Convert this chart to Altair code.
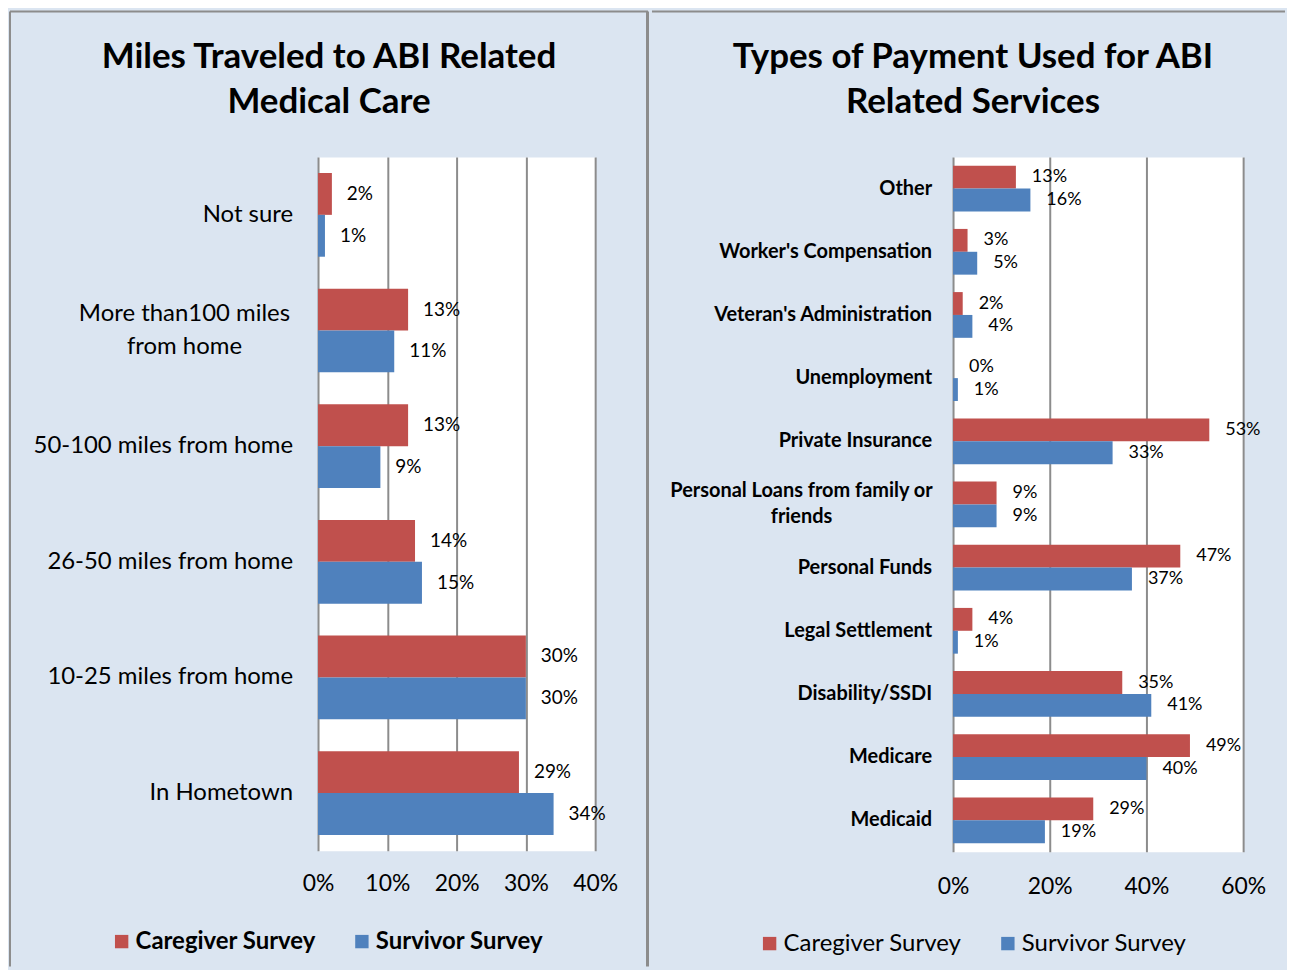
import altair as alt
import pandas as pd

FONT = "Lato"
series = ["Caregiver Survey", "Survivor Survey"]
colors = ["#C0504D", "#4F81BD"]

left_title = "Miles Traveled to ABI Related\nMedical Care"
miles_cats = ["Not sure", "More than100 miles\nfrom home", "50-100 miles from home",
              "26-50 miles from home", "10-25 miles from home", "In Hometown"]
miles_caregiver = [2, 13, 13, 14, 30, 29]
miles_survivor = [1, 11, 9, 15, 30, 34]
miles_ticks = [0, 10, 20, 30, 40]

right_title = "Types of Payment Used for ABI\nRelated Services"
pay_cats = ["Other", "Worker's Compensation", "Veteran's Administration", "Unemployment",
            "Private Insurance", "Personal Loans from family or\nfriends", "Personal Funds",
            "Legal Settlement", "Disability/SSDI", "Medicare", "Medicaid"]
pay_caregiver = [13, 3, 2, 0, 53, 9, 47, 4, 35, 49, 29]
pay_survivor = [16, 5, 4, 1, 33, 9, 37, 1, 41, 40, 19]
pay_ticks = [0, 20, 40, 60]

GRID = "#8c8c8c"


def long_df(cats, a, b):
    rows = []
    for c, va, vb in zip(cats, a, b):
        rows.append({"cat": c, "series": series[0], "value": va, "label": f"{va}%"})
        rows.append({"cat": c, "series": series[1], "value": vb, "label": f"{vb}%"})
    return pd.DataFrame(rows)


def panel(cats, a, b, ticks, title, w, h, cfg):
    df = long_df(cats, a, b)
    ysc = alt.Scale(domain=cats, paddingInner=0.276, paddingOuter=0.138)
    y = alt.Y("cat:N", sort=cats, scale=ysc, axis=None)
    yoff = alt.YOffset("series:N", sort=series, scale=alt.Scale(paddingInner=0, paddingOuter=0))
    x = alt.X("value:Q", scale=alt.Scale(domain=[ticks[0], ticks[-1]], nice=False),
              axis=alt.Axis(values=ticks, labelExpr="datum.value + '%'", grid=True,
                            gridColor=GRID, gridWidth=2, domain=False, ticks=False,
                            labelPadding=cfg["xpad"], labelFont=FONT, labelFontSize=23,
                            labelColor="black", title=None, labelFlush=False))
    bars = alt.Chart(df).mark_bar().encode(
        y=y, yOffset=yoff, x=x,
        color=alt.Color("series:N", scale=alt.Scale(domain=series, range=colors),
                        legend=alt.Legend(orient="none", legendX=cfg["legx"], legendY=cfg["legy"],
                                          direction="horizontal", title=None, symbolType="square",
                                          symbolSize=180, symbolStrokeWidth=0, labelFont=FONT,
                                          labelFontSize=cfg["legfs"], labelFontWeight=cfg["legw"],
                                          labelColor="black", columnPadding=cfg["legcp"],
                                          labelOffset=2, labelLimit=500,
                                          padding=0, symbolOpacity=1)),
    )
    labels = alt.Chart(df).mark_text(align="left", baseline="middle", dx=cfg["ldx"],
                                     font=FONT, fontSize=cfg["lfs"], color="black").encode(
        y=y, yOffset=yoff, x=alt.X("value:Q"), text="label:N")

    cdf = pd.DataFrame({"cat": cats, "multi": ["\n" in c for c in cats]})
    ylab1 = alt.Chart(cdf).transform_filter("!datum.multi").mark_text(
        align="right", baseline="middle", font=FONT, fontSize=cfg["yfs"], fontWeight=cfg["yw"],
        color="black").encode(y=y, x=alt.value(cfg["yx"]), text="cat:N")
    ylab2 = alt.Chart(cdf).transform_filter("datum.multi").mark_text(
        align="center", baseline="middle", font=FONT, fontSize=cfg["yfs"], fontWeight=cfg["yw"],
        lineBreak="\n", lineHeight=cfg["ylh"], dy=-cfg["ylh"] / 2, color="black").encode(
        y=y, x=alt.value(cfg["ymx"]), text="cat:N")

    tdf = pd.DataFrame({"t": [title]})
    ttl = alt.Chart(tdf).mark_text(align="center", baseline="middle", font=FONT, fontSize=35,
                                   fontWeight="bold", lineBreak="\n", lineHeight=45,
                                   color="black").encode(
        x=alt.value(cfg["tx"]), y=alt.value(-100), text="t:N")

    bdf = pd.DataFrame({"k": [0]})
    rules = []
    for (x1, x2, y1, y2, sw) in cfg["rules"]:
        enc = dict(x=alt.value(x1), y=alt.value(y1))
        if x2 is not None:
            enc["x2"] = alt.value(x2)
        if y2 is not None:
            enc["y2"] = alt.value(y2)
        rules.append(alt.Chart(bdf).mark_rule(color=GRID, strokeWidth=sw).encode(**enc))

    return alt.layer(bars, labels, ylab1, ylab2, ttl, *rules).properties(width=w, height=h)


left_cfg = dict(xpad=22, legx=-209, legy=775, legw="bold", legfs=24, legcp=34, ldx=15, lfs=19,
                yfs=24, yw="normal", yx=-25, ymx=-134, ylh=33, tx=11,
                rules=[(-309, None, -146, 812, 2), (-309, 331, -146, None, 2),
                       (330.5, None, -146, 812, 3)])
right_cfg = dict(xpad=24, legx=-196, legy=777, legw="normal", legfs=24, legcp=34, ldx=16, lfs=18,
                 yfs=20, yw="bold", yx=-21, ymx=-152, ylh=26, tx=20,
                 rules=[(-302, 333, -146, None, 2)])

left = panel(miles_cats, miles_caregiver, miles_survivor, miles_ticks, left_title, 278, 696, left_cfg)
right = panel(pay_cats, pay_caregiver, pay_survivor, pay_ticks, right_title, 291, 697, right_cfg)

chart = alt.hconcat(left, right, spacing=0, padding=0, background="#DBE5F1").resolve_scale(
    color="independent", y="independent", yOffset="independent").resolve_legend(
    color="independent").configure_view(fill="white", stroke="transparent")

chart.save("out.html", embed_options={"renderer": "svg", "actions": False})
